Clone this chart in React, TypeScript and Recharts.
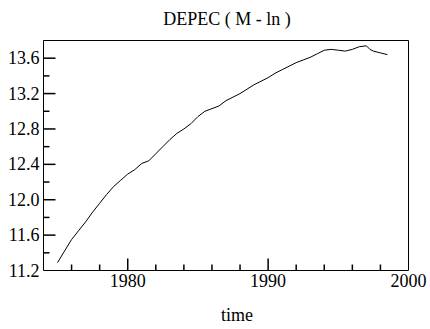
import React from 'react';
import { LineChart, Line, XAxis, YAxis, ReferenceLine, Customized } from 'recharts';

const years: number[] = [
  1975.0, 1975.5, 1976.0, 1976.5, 1977.0, 1977.5, 1978.0, 1978.5, 1979.0, 1979.5,
  1980.0, 1980.5, 1981.0, 1981.5, 1982.0, 1982.5, 1983.0, 1983.5, 1984.0, 1984.5,
  1985.0, 1985.5, 1986.0, 1986.5, 1987.0, 1987.5, 1988.0, 1988.5, 1989.0, 1989.5,
  1990.0, 1990.5, 1991.0, 1991.5, 1992.0, 1992.5, 1993.0, 1993.5, 1994.0, 1994.5,
  1995.0, 1995.5, 1996.0, 1996.5, 1997.0, 1997.25, 1997.5, 1998.0, 1998.5,
];

const depec: number[] = [
  11.29, 11.42, 11.55, 11.65, 11.75, 11.86, 11.96, 12.06, 12.15, 12.22,
  12.29, 12.34, 12.41, 12.44, 12.52, 12.60, 12.68, 12.75, 12.80, 12.86,
  12.94, 13.00, 13.03, 13.06, 13.12, 13.16, 13.20, 13.25, 13.30, 13.34,
  13.38, 13.43, 13.47, 13.51, 13.55, 13.58, 13.61, 13.65, 13.69, 13.70,
  13.69, 13.68, 13.70, 13.73, 13.74, 13.70, 13.68, 13.66, 13.64,
];

const xTicks: number[] = [1976, 1978, 1980, 1982, 1984, 1986, 1988, 1990, 1992, 1994, 1996, 1998, 2000];
const yTicks: number[] = [11.2, 11.4, 11.6, 11.8, 12.0, 12.2, 12.4, 12.6, 12.8, 13.0, 13.2, 13.4, 13.6];

const title = 'DEPEC ( M - ln )';
const xLabel = 'time';

const data = years.map((t, i) => ({ t, v: depec[i] }));

const FONT = 'Liberation Serif';
const DOMAIN_X: [number, number] = [1974, 2000];
const DOMAIN_Y: [number, number] = [11.2, 13.8];

// plot size in px, used to turn tick lengths (px) into data units
const PLOT_W = 365;
const PLOT_H = 230;
const pxX = (DOMAIN_X[1] - DOMAIN_X[0]) / PLOT_W;
const pxY = (DOMAIN_Y[1] - DOMAIN_Y[0]) / PLOT_H;

const isMajorX = (v: number) => Math.round(v) % 10 === 0;
const isMajorY = (v: number) => Math.round(v * 10) % 4 === 0;

const XTick = (props: any) => {
  const { x, y, payload } = props;
  if (!isMajorX(payload.value)) return <g />;
  return (
    <text x={x} y={y + 16} textAnchor="middle" fontFamily={FONT} fontSize={18} fill="#000">
      {payload.value}
    </text>
  );
};

const YTick = (props: any) => {
  const { x, y, payload } = props;
  if (!isMajorY(payload.value)) return <g />;
  return (
    <text x={x - 4} y={y + 6} textAnchor="end" fontFamily={FONT} fontSize={18} fill="#000">
      {payload.value.toFixed(1)}
    </text>
  );
};

const Texts = () => (
  <g>
    <text x={227} y={25} textAnchor="middle" fontFamily={FONT} fontSize={18} fill="#000">
      {title}
    </text>
    <text x={237} y={321} textAnchor="middle" fontFamily={FONT} fontSize={18} fill="#000">
      {xLabel}
    </text>
  </g>
);

export default function App() {
  return (
    <div style={{ position: 'absolute', left: 0, top: 0, width: 430, height: 329, background: '#fff' }}>
      <LineChart
        width={430}
        height={329}
        data={data}
        margin={{ top: 40.5, right: 21.5, bottom: 28.5, left: 0.5 }}
      >
        <XAxis
          dataKey="t"
          type="number"
          domain={DOMAIN_X}
          ticks={xTicks}
          interval={0}
          tickSize={0}
          tickMargin={0}
          tickLine={false}
          axisLine={false}
          tick={<XTick />}
          height={30}
        />
        <YAxis
          type="number"
          domain={DOMAIN_Y}
          ticks={yTicks}
          interval={0}
          tickSize={0}
          tickMargin={0}
          tickLine={false}
          axisLine={false}
          tick={<YTick />}
          width={43}
        />
        <ReferenceLine x={DOMAIN_X[0]} stroke="#000" strokeWidth={1} ifOverflow="visible" />
        <ReferenceLine x={DOMAIN_X[1]} stroke="#000" strokeWidth={1} ifOverflow="visible" />
        <ReferenceLine y={DOMAIN_Y[0]} stroke="#000" strokeWidth={1} ifOverflow="visible" />
        <ReferenceLine y={DOMAIN_Y[1]} stroke="#000" strokeWidth={1} ifOverflow="visible" />
        {xTicks.filter((v) => v < DOMAIN_X[1]).map((v) => (
          <ReferenceLine
            key={'xt' + v}
            segment={[
              { x: v, y: DOMAIN_Y[0] },
              { x: v, y: DOMAIN_Y[0] + (isMajorX(v) ? 12 : 6) * pxY },
            ]}
            stroke="#000"
            strokeWidth={1.5}
            ifOverflow="visible"
          />
        ))}
        {yTicks.filter((v) => v > DOMAIN_Y[0] + 1e-9).map((v) => (
          <ReferenceLine
            key={'yt' + v}
            segment={[
              { x: DOMAIN_X[0], y: v },
              { x: DOMAIN_X[0] + (isMajorY(v) ? 12 : 6) * pxX, y: v },
            ]}
            stroke="#000"
            strokeWidth={1.5}
            ifOverflow="visible"
          />
        ))}
        <Line
          type="linear"
          dataKey="v"
          stroke="#000"
          strokeWidth={1}
          dot={false}
          isAnimationActive={false}
        />
        <Customized component={Texts} />
      </LineChart>
    </div>
  );
}
